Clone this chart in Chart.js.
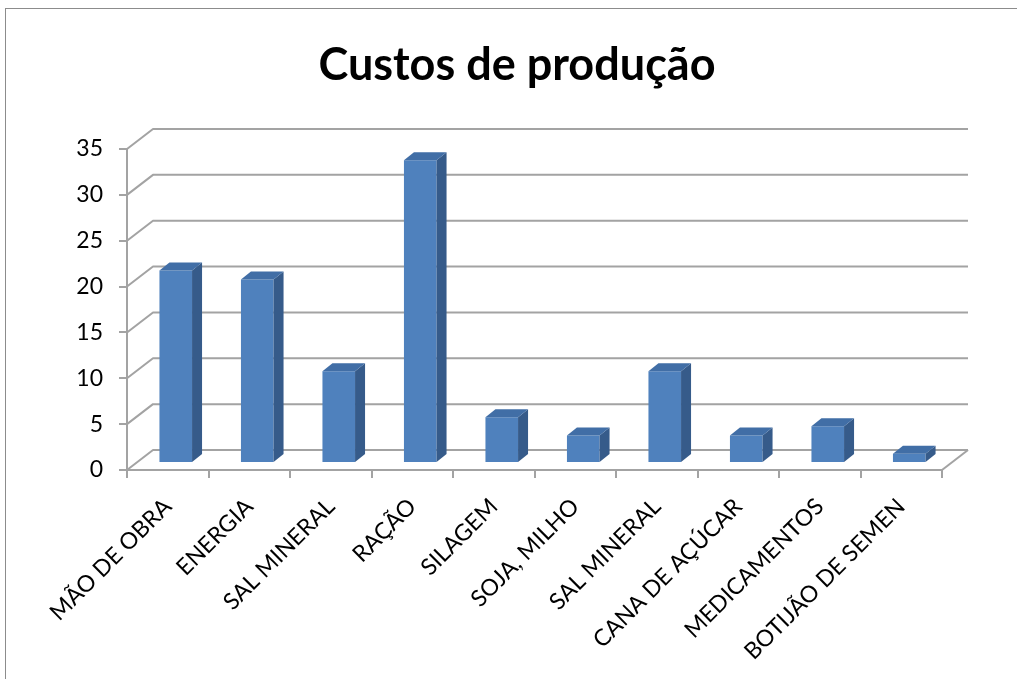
<!DOCTYPE html>
<html>
<head>
<meta charset="utf-8">
<script src="https://cdn.jsdelivr.net/npm/chart.js@4"></script>
<style>
  html, body { margin: 0; padding: 0; background: #fff; overflow: hidden; }
  #c { display: block; }
</style>
</head>
<body>
<canvas id="c" width="1017" height="679"></canvas>
<script>
// Cost items and their share
const categories = ['MÃO DE OBRA', 'ENERGIA', 'SAL MINERAL', 'RAÇÃO', 'SILAGEM',
                    'SOJA, MILHO', 'SAL MINERAL', 'CANA DE AÇÚCAR', 'MEDICAMENTOS', 'BOTIJÃO DE SEMEN'];
const costs = [21, 20, 10, 33, 5, 3, 10, 3, 4, 1];
const yTicks = [0, 5, 10, 15, 20, 25, 30, 35];
const chartTitle = 'Custos de produção';

// Look of the 3D box and columns
const GRID = '#a3a3a3';
const FRONT = '#4f81bd';
const SIDE = '#365b8a';
const TOP = '#416ea6';
const WALL = { dx: 26, dy: -20 };      // depth of back wall / floor
const BAR_SHIFT = { dx: 8, dy: -7 };   // columns sit part-way into the box
const BAR_DEPTH = { dx: 10, dy: -8 };  // thickness of each column
const FONT = 'Lato, "Open Sans", sans-serif';

const box3d = {
  id: 'box3d',
  beforeDraw(chart) {
    const { ctx, width, height } = chart;
    ctx.save();
    ctx.fillStyle = '#fff';
    ctx.fillRect(0, 0, width, height);
    ctx.strokeStyle = '#8c8c8c';
    ctx.lineWidth = 1;
    ctx.strokeRect(5.5, 8.5, width + 40, height + 40);
    ctx.restore();
  },
  beforeDatasetsDraw(chart) {
    const { ctx, chartArea: a, scales: { y } } = chart;
    ctx.save();
    ctx.strokeStyle = GRID;
    ctx.lineWidth = 2;
    ctx.lineJoin = 'round';
    // side wall diagonals + back wall gridlines
    yTicks.forEach(v => {
      const py = y.getPixelForValue(v);
      ctx.beginPath();
      ctx.moveTo(a.left, py);
      ctx.lineTo(a.left + WALL.dx, py + WALL.dy);
      ctx.lineTo(a.right + WALL.dx, py + WALL.dy);
      ctx.stroke();
    });
    // right edge of the floor
    const y0 = y.getPixelForValue(0);
    ctx.beginPath();
    ctx.moveTo(a.right, y0);
    ctx.lineTo(a.right + WALL.dx, y0 + WALL.dy);
    ctx.stroke();
    ctx.restore();

    // columns are drawn set back into the box
    ctx.save();
    ctx.translate(BAR_SHIFT.dx, BAR_SHIFT.dy);
  },
  afterDatasetsDraw(chart) {
    const { ctx } = chart;
    chart.getDatasetMeta(0).data.forEach(bar => {
      const { x, y, base, width } = bar.getProps(['x', 'y', 'base', 'width'], true);
      const l = x - width / 2, r = x + width / 2;
      // side face
      ctx.fillStyle = SIDE;
      ctx.beginPath();
      ctx.moveTo(r, y);
      ctx.lineTo(r + BAR_DEPTH.dx, y + BAR_DEPTH.dy);
      ctx.lineTo(r + BAR_DEPTH.dx, base + BAR_DEPTH.dy);
      ctx.lineTo(r, base);
      ctx.closePath();
      ctx.fill();
      // top face
      ctx.fillStyle = TOP;
      ctx.beginPath();
      ctx.moveTo(l, y);
      ctx.lineTo(l + BAR_DEPTH.dx, y + BAR_DEPTH.dy);
      ctx.lineTo(r + BAR_DEPTH.dx, y + BAR_DEPTH.dy);
      ctx.lineTo(r, y);
      ctx.closePath();
      ctx.fill();
    });
    ctx.restore();
  },
  afterDraw(chart) {
    const { ctx } = chart;
    ctx.save();
    ctx.fillStyle = '#000';
    ctx.font = 'bold 45px ' + FONT;
    ctx.textAlign = 'center';
    ctx.textBaseline = 'alphabetic';
    ctx.fillText(chartTitle, 517, 80);
    ctx.restore();
  }
};

new Chart(document.getElementById('c'), {
  type: 'bar',
  data: {
    labels: categories,
    datasets: [{
      data: costs,
      backgroundColor: FRONT,
      borderWidth: 0,
      barPercentage: 0.4,
      categoryPercentage: 1.0,
      clip: false
    }]
  },
  options: {
    responsive: false,
    devicePixelRatio: 1,
    animation: false,
    events: [],
    layout: { padding: { top: 149, left: 0, right: 75, bottom: 0 } },
    plugins: {
      legend: { display: false },
      title: { display: false },
      tooltip: { enabled: false }
    },
    scales: {
      x: {
        afterFit: s => { s.height = 209; },
        grid: {
          display: true, drawOnChartArea: false, drawTicks: true,
          tickLength: 8, color: GRID, lineWidth: 2, offset: true
        },
        border: { display: true, color: GRID, width: 2 },
        ticks: {
          autoSkip: false, maxRotation: 45, minRotation: 45,
          padding: 15, labelOffset: 0,
          color: '#000', font: { family: FONT, size: 23 }
        }
      },
      y: {
        min: 0, max: 35,
        afterFit: s => { s.width = 127; },
        afterBuildTicks: s => { s.ticks = yTicks.map(v => ({ value: v })); },
        grid: {
          display: true, drawOnChartArea: false, drawTicks: true,
          tickLength: 8, color: GRID, lineWidth: 2
        },
        border: { display: true, color: GRID, width: 2 },
        ticks: {
          padding: 16,
          color: '#000', font: { family: FONT, size: 23 }
        }
      }
    }
  },
  plugins: [box3d]
});
</script>
</body>
</html>
